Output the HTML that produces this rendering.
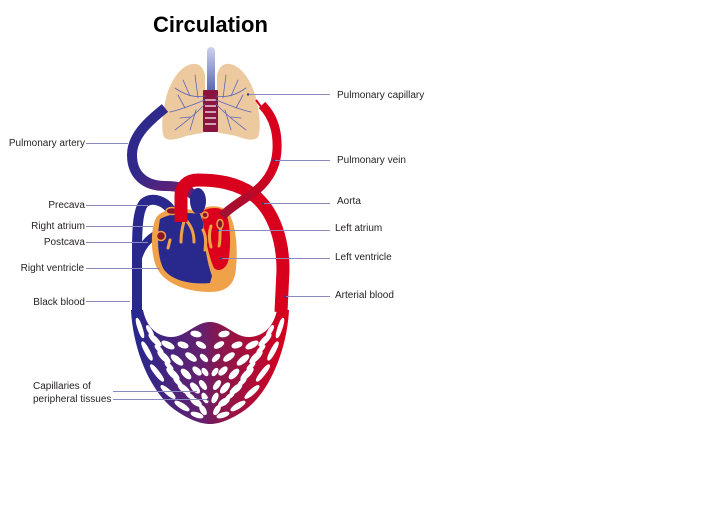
<!DOCTYPE html>
<html><head><meta charset="utf-8"><style>
html,body{margin:0;padding:0;background:#fff;}
svg{display:block;}
text{font-family:"Liberation Sans",sans-serif;fill:#231f20;}
</style></head><body>
<svg width="710" height="511" viewBox="0 0 710 511" xmlns="http://www.w3.org/2000/svg">
<defs>
<linearGradient id="net" gradientUnits="userSpaceOnUse" x1="132" y1="0" x2="288" y2="0">
<stop offset="0" stop-color="#25288f"/><stop offset="0.45" stop-color="#65206e"/><stop offset="0.55" stop-color="#85184f"/><stop offset="1" stop-color="#d8001c"/>
</linearGradient>
<linearGradient id="pa" gradientUnits="userSpaceOnUse" x1="130" y1="110" x2="185" y2="190">
<stop offset="0" stop-color="#2c2a8c"/><stop offset="0.6" stop-color="#33288a"/><stop offset="1" stop-color="#6a1f72"/>
</linearGradient>
<linearGradient id="pv" gradientUnits="userSpaceOnUse" x1="0" y1="170" x2="0" y2="216">
<stop offset="0" stop-color="#d8001c"/><stop offset="1" stop-color="#9c1232"/>
</linearGradient>
<linearGradient id="tr" x1="0" y1="0" x2="0" y2="1">
<stop offset="0" stop-color="#cfd3ec"/><stop offset="1" stop-color="#4d5cb0"/>
</linearGradient>
</defs>

<text x="153" y="32" font-size="22" font-weight="bold" style="fill:#000">Circulation</text>

<!-- lungs -->
<path d="M205,75 C203,66 198,63 192,64 C180,66 170,82 166,98 C162,115 161,130 164,137 C167,141 175,140 183,137 C192,134 200,134 205,132 Z" fill="#edc9a0"/>
<path d="M217,75 C219,66 224,63 230,64 C242,66 252,82 256,98 C260,115 261,130 258,137 C255,141 247,140 239,137 C230,134 222,134 217,132 Z" fill="#edc9a0"/>
<rect x="207" y="47" width="8" height="48" rx="4" fill="url(#tr)"/>
<rect x="203" y="90" width="15" height="42" rx="1" fill="#8a1440"/>
<g stroke="#fff" stroke-width="1.2">
<line x1="205" y1="100" x2="216" y2="100"/><line x1="205" y1="106" x2="216" y2="106"/><line x1="205" y1="112" x2="216" y2="112"/><line x1="205" y1="118" x2="216" y2="118"/><line x1="205" y1="124" x2="216" y2="124"/>
</g>
<g stroke="#5a66b8" stroke-width="0.8" fill="none" stroke-linecap="round">
<path d="M205,96 C195,98 185,95 175,88"/><path d="M190,96 L183,80"/><path d="M205,100 C192,105 180,110 170,112"/><path d="M185,108 L178,95"/>
<path d="M205,104 C195,115 185,122 175,130"/><path d="M190,117 L180,118"/><path d="M196,110 L190,130"/><path d="M198,98 L195,75"/>
<path d="M216,96 C226,98 236,95 246,88"/><path d="M231,96 L238,80"/><path d="M216,100 C229,105 241,110 251,112"/><path d="M236,108 L243,95"/>
<path d="M216,104 C226,115 236,122 246,130"/><path d="M231,117 L241,118"/><path d="M225,110 L231,130"/><path d="M223,98 L226,75"/>
</g>

<!-- capillary net -->
<path d="M131,310 C133,350 151,395 178,412 C192,421 202,424 210,424 C218,424 228,421 242,412 C269,395 287,350 289,310 L277,310 C274,325 265,336 250,337 C235,338 225,322 210,322 C195,322 185,338 170,337 C155,336 146,325 143,310 Z" fill="url(#net)"/>
<g fill="#fff" stroke="#fff" stroke-width="1.4">
<ellipse cx="140" cy="328" rx="1.8" ry="10" transform="rotate(-18 140 328)"/>
<ellipse cx="147" cy="351" rx="2" ry="10" transform="rotate(-28 147 351)"/>
<ellipse cx="157" cy="373" rx="2" ry="10" transform="rotate(-38 157 373)"/>
<ellipse cx="168" cy="392" rx="2.2" ry="9" transform="rotate(-48 168 392)"/>
<ellipse cx="182" cy="406" rx="2.2" ry="8" transform="rotate(-58 182 406)"/>
<ellipse cx="197" cy="415" rx="2" ry="6" transform="rotate(-72 197 415)"/>
<ellipse cx="155" cy="340" rx="2.3" ry="8" transform="rotate(-45 155 340)"/>
<ellipse cx="164" cy="357" rx="2.6" ry="8" transform="rotate(-45 164 357)"/>
<ellipse cx="173" cy="374" rx="2.6" ry="8" transform="rotate(-45 173 374)"/>
<ellipse cx="184" cy="389" rx="2.6" ry="7" transform="rotate(-50 184 389)"/>
<ellipse cx="196" cy="402" rx="2.6" ry="6" transform="rotate(-55 196 402)"/>
<ellipse cx="168" cy="345" rx="2.5" ry="6.5" transform="rotate(-62 168 345)"/>
<ellipse cx="177" cy="360" rx="2.6" ry="7" transform="rotate(-50 177 360)"/>
<ellipse cx="186" cy="374" rx="2.6" ry="6" transform="rotate(-45 186 374)"/>
<ellipse cx="195" cy="388" rx="2.6" ry="6" transform="rotate(-40 195 388)"/>
<ellipse cx="203" cy="410" rx="2.2" ry="5" transform="rotate(-30 203 410)"/>
<ellipse cx="183" cy="345" rx="2.5" ry="5" transform="rotate(-72 183 345)"/>
<ellipse cx="191" cy="357" rx="2.5" ry="6" transform="rotate(-55 191 357)"/>
<ellipse cx="197" cy="371" rx="2.5" ry="5" transform="rotate(-45 197 371)"/>
<ellipse cx="203" cy="385" rx="2.2" ry="5" transform="rotate(-35 203 385)"/>
<ellipse cx="205" cy="398" rx="2.2" ry="5" transform="rotate(-25 205 398)"/>
<ellipse cx="196" cy="334" rx="2.5" ry="5" transform="rotate(-78 196 334)"/>
<ellipse cx="201" cy="345" rx="2.2" ry="5" transform="rotate(-60 201 345)"/>
<ellipse cx="204" cy="358" rx="2" ry="4.5" transform="rotate(-45 204 358)"/>
<ellipse cx="205" cy="372" rx="2" ry="4" transform="rotate(-35 205 372)"/>
<ellipse cx="150" cy="331" rx="1.6" ry="6" transform="rotate(-30 150 331)"/>
<ellipse cx="159" cy="349" rx="1.6" ry="5" transform="rotate(-45 159 349)"/>
<ellipse cx="169" cy="366" rx="1.6" ry="5" transform="rotate(-45 169 366)"/>
<ellipse cx="178" cy="382" rx="1.6" ry="5" transform="rotate(-48 178 382)"/>
<ellipse cx="190" cy="396" rx="1.6" ry="4.5" transform="rotate(-55 190 396)"/>
<ellipse cx="280" cy="328" rx="1.8" ry="10" transform="rotate(18 280 328)"/>
<ellipse cx="273" cy="351" rx="2" ry="10" transform="rotate(28 273 351)"/>
<ellipse cx="263" cy="373" rx="2" ry="10" transform="rotate(38 263 373)"/>
<ellipse cx="252" cy="392" rx="2.2" ry="9" transform="rotate(48 252 392)"/>
<ellipse cx="238" cy="406" rx="2.2" ry="8" transform="rotate(58 238 406)"/>
<ellipse cx="223" cy="415" rx="2" ry="6" transform="rotate(72 223 415)"/>
<ellipse cx="265" cy="340" rx="2.3" ry="8" transform="rotate(45 265 340)"/>
<ellipse cx="256" cy="357" rx="2.6" ry="8" transform="rotate(45 256 357)"/>
<ellipse cx="247" cy="374" rx="2.6" ry="8" transform="rotate(45 247 374)"/>
<ellipse cx="236" cy="389" rx="2.6" ry="7" transform="rotate(50 236 389)"/>
<ellipse cx="224" cy="402" rx="2.6" ry="6" transform="rotate(55 224 402)"/>
<ellipse cx="252" cy="345" rx="2.5" ry="6.5" transform="rotate(62 252 345)"/>
<ellipse cx="243" cy="360" rx="2.6" ry="7" transform="rotate(50 243 360)"/>
<ellipse cx="234" cy="374" rx="2.6" ry="6" transform="rotate(45 234 374)"/>
<ellipse cx="225" cy="388" rx="2.6" ry="6" transform="rotate(40 225 388)"/>
<ellipse cx="217" cy="410" rx="2.2" ry="5" transform="rotate(30 217 410)"/>
<ellipse cx="237" cy="345" rx="2.5" ry="5" transform="rotate(72 237 345)"/>
<ellipse cx="229" cy="357" rx="2.5" ry="6" transform="rotate(55 229 357)"/>
<ellipse cx="223" cy="371" rx="2.5" ry="5" transform="rotate(45 223 371)"/>
<ellipse cx="217" cy="385" rx="2.2" ry="5" transform="rotate(35 217 385)"/>
<ellipse cx="215" cy="398" rx="2.2" ry="5" transform="rotate(25 215 398)"/>
<ellipse cx="224" cy="334" rx="2.5" ry="5" transform="rotate(78 224 334)"/>
<ellipse cx="219" cy="345" rx="2.2" ry="5" transform="rotate(60 219 345)"/>
<ellipse cx="216" cy="358" rx="2" ry="4.5" transform="rotate(45 216 358)"/>
<ellipse cx="215" cy="372" rx="2" ry="4" transform="rotate(35 215 372)"/>
<ellipse cx="270" cy="331" rx="1.6" ry="6" transform="rotate(30 270 331)"/>
<ellipse cx="261" cy="349" rx="1.6" ry="5" transform="rotate(45 261 349)"/>
<ellipse cx="251" cy="366" rx="1.6" ry="5" transform="rotate(45 251 366)"/>
<ellipse cx="242" cy="382" rx="1.6" ry="5" transform="rotate(48 242 382)"/>
<ellipse cx="230" cy="396" rx="1.6" ry="4.5" transform="rotate(55 230 396)"/>
</g>

<!-- blue venous vessels -->
<path d="M172,212 C166,201 152,196 144,203 C138,210 137,228 137,252 L137,312" fill="none" stroke="#28288d" stroke-width="10"/>
<path d="M137,262 C140,248 148,238 158,234" fill="none" stroke="#28288d" stroke-width="8"/>
<!-- pulmonary artery -->
<path d="M165,108 C150,120 132,135 132,155 C132,175 145,186 165,186 C178,186 188,188 196,198" fill="none" stroke="url(#pa)" stroke-width="10"/>

<!-- heart -->
<path d="M156,218 C151,228 150,250 156,266 C163,284 188,292 210,292 C226,292 235,285 236,268 C238,248 236,228 230,215 C226,207 216,205 207,207 L194,210 C180,208 162,208 156,218 Z" fill="#f0a24a"/>
<path d="M160,219 C157,235 157,255 163,268 C170,280 190,285 210,283 L212,276 C206,260 204,240 203,222 L200,214 C188,212 170,213 160,219 Z" fill="#28288d"/>
<path d="M201,212 C208,207 221,206 226,213 C231,225 231,250 228,262 C225,270 218,272 214,268 C208,255 205,235 203,222 Z" fill="#dc001c"/>
<ellipse cx="198" cy="201" rx="8" ry="13" fill="#28288d"/>
<g fill="none" stroke="#f0a24a" stroke-width="3" stroke-linecap="round">
<path d="M186,214 C184,222 181,230 181,242"/><path d="M186,220 C191,226 194,232 194,242"/><path d="M170,240 L168,248"/>
<path d="M211,226 C209,232 209,240 211,247"/><path d="M221,226 C219,232 221,238 219,246"/><path d="M203,230 C206,236 206,242 205,250"/>
</g>
<g fill="#8a1428" stroke="#f0a24a" stroke-width="1.5">
<ellipse cx="172" cy="211" rx="6" ry="3.5"/><circle cx="161" cy="236" r="4.5"/><circle cx="205" cy="215" r="3"/><ellipse cx="220" cy="224" rx="3" ry="4.5"/>
</g>

<!-- aorta -->
<path d="M181,222 L181,196 C181,186 188,180 198,180 C215,180 238,182 256,197 C274,213 283,240 283,270 L281,312" fill="none" stroke="#d8001c" stroke-width="13"/>
<!-- pulmonary vein -->
<path d="M262,105 C272,115 278,130 277,150 C276,170 265,185 250,195 C240,202 230,208 222,216" fill="none" stroke="url(#pv)" stroke-width="9"/>
<path d="M256,100 L265,112" stroke="#d8001c" stroke-width="2" fill="none"/>

<!-- leader lines -->
<g stroke="#8a8abf" stroke-width="1" fill="none">
<line x1="86" y1="143.5" x2="128" y2="143.5"/>
<line x1="86" y1="205.5" x2="148" y2="205.5"/>
<line x1="86" y1="226.5" x2="153" y2="226.5"/>
<line x1="86" y1="242.5" x2="148" y2="242.5"/>
<line x1="86" y1="268.5" x2="160" y2="268.5"/>
<line x1="86" y1="301.5" x2="130" y2="301.5"/>
<line x1="113" y1="391.5" x2="197" y2="391.5"/>
<line x1="113" y1="399.5" x2="208" y2="399.5"/>
<line x1="248" y1="94.5" x2="330" y2="94.5"/>
<line x1="274" y1="160.5" x2="330" y2="160.5"/>
<line x1="263" y1="203.5" x2="330" y2="203.5"/>
<line x1="218" y1="230.5" x2="330" y2="230.5"/>
<line x1="221" y1="258.5" x2="330" y2="258.5"/>
<line x1="285" y1="296.5" x2="330" y2="296.5"/>
</g>
<g fill="#3a3a8a">
<circle cx="248" cy="94.5" r="1.2"/><circle cx="274" cy="160.5" r="1.2"/><circle cx="263" cy="203.5" r="1.2"/><circle cx="218" cy="230.5" r="1.2"/><circle cx="221" cy="258.5" r="1.2"/><circle cx="285" cy="296.5" r="1.2"/><circle cx="208" cy="399.5" r="1.2"/>
</g>

<!-- labels -->
<g font-size="10" text-anchor="end">
<text x="85" y="146">Pulmonary artery</text>
<text x="85" y="208">Precava</text>
<text x="85" y="229">Right atrium</text>
<text x="85" y="245">Postcava</text>
<text x="84" y="271">Right ventricle</text>
<text x="85" y="305">Black blood</text>
</g>
<g font-size="10">
<text x="33" y="389">Capillaries of</text>
<text x="33" y="402">peripheral tissues</text>
<text x="337" y="98">Pulmonary capillary</text>
<text x="337" y="163">Pulmonary vein</text>
<text x="337" y="204">Aorta</text>
<text x="335" y="231">Left atrium</text>
<text x="335" y="260">Left ventricle</text>
<text x="335" y="298">Arterial blood</text>
</g>
</svg>
</body></html>
